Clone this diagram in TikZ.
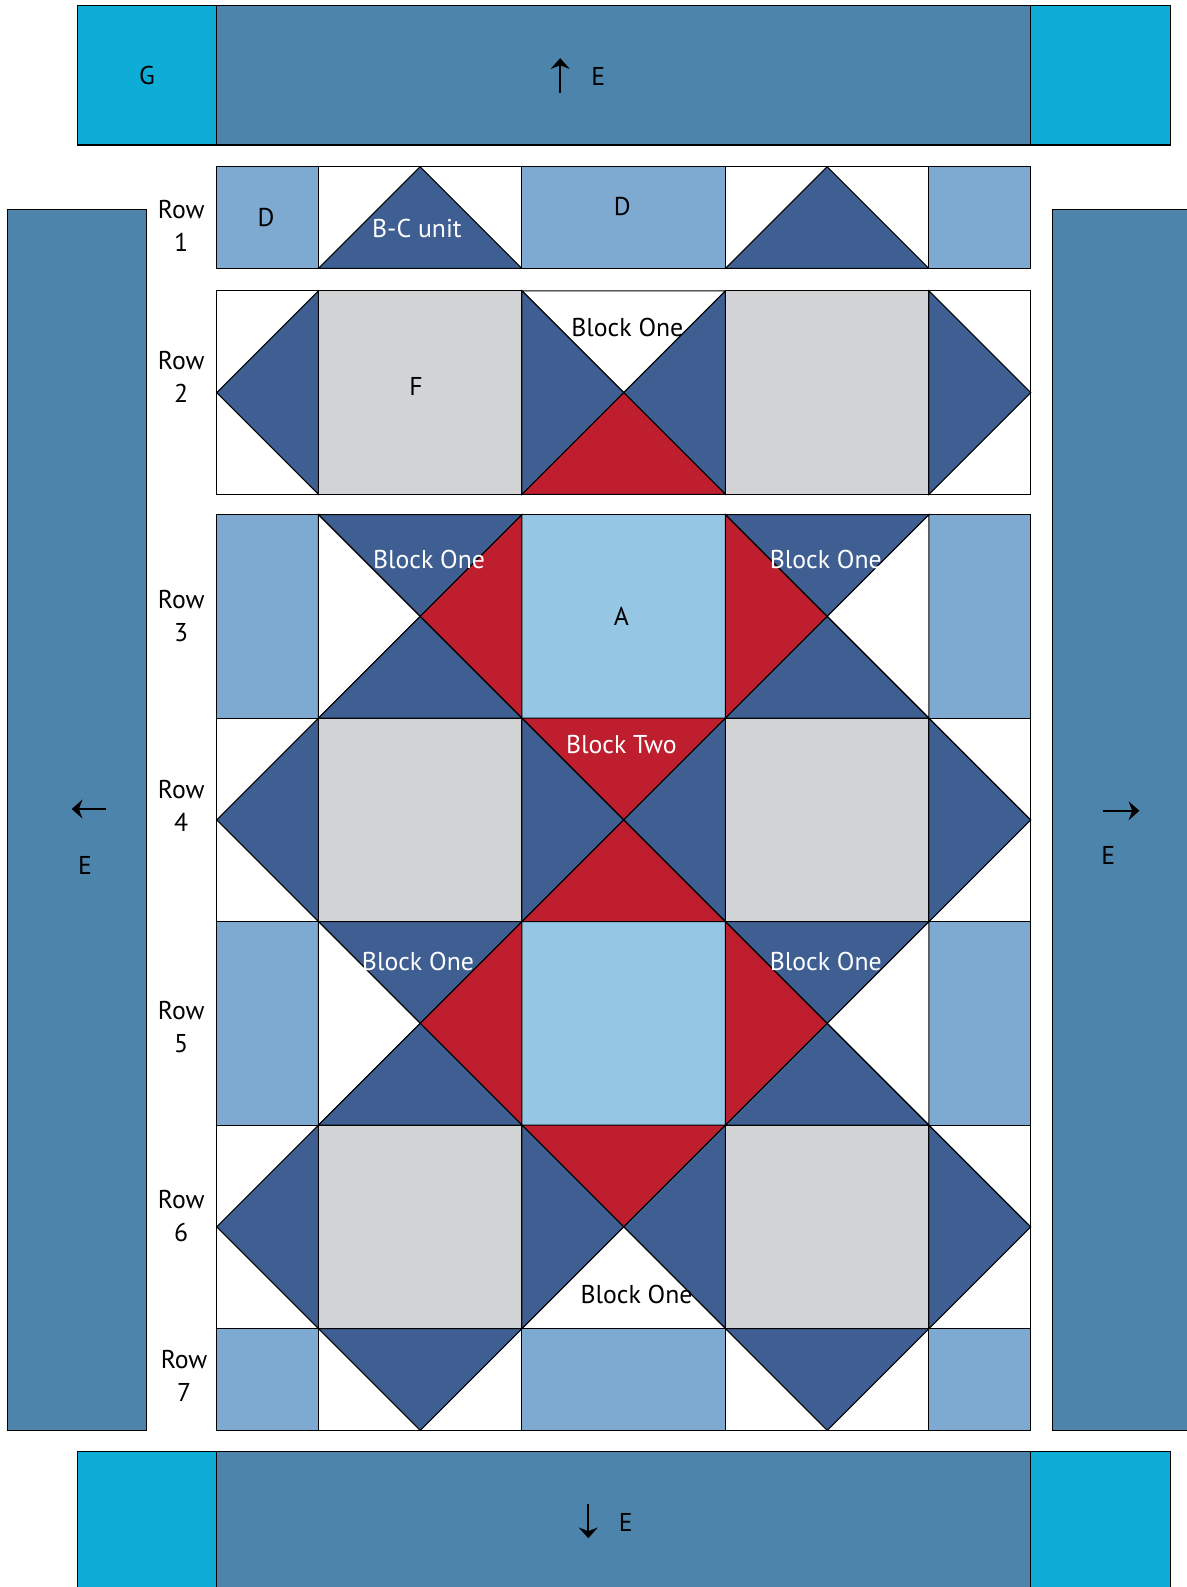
\documentclass[tikz,border=0pt]{standalone}
\usepackage{fontspec}
\setmainfont{PT Sans}
\usetikzlibrary{arrows.meta}
\definecolor{gcyan}{HTML}{0DADD7}
\definecolor{estrip}{HTML}{4D84AB}
\definecolor{dpatch}{HTML}{7EAAD1}
\definecolor{navy}{HTML}{3F5F93}
\definecolor{qred}{HTML}{BE1E2D}
\definecolor{fgray}{HTML}{D1D3D5}
\definecolor{asky}{HTML}{95C7E4}

\begin{document}
\begin{tikzpicture}[line width=0.3pt,
  every node/.style={font=\fontsize{7.2}{9.2}\selectfont,inner sep=0pt},
  patch/.style={draw=black},
  rowlab/.style={align=center},
  wlab/.style={text=white},
  arr/.style={line width=0.45pt,-{Stealth[length=3pt,width=5.3pt,inset=1pt]}}]
\useasboundingbox (-2.1297,-13.959) rectangle (9.536,1.6383);
\clip (-2.1297,-13.959) rectangle (9.536,1.6383);

% borders
\filldraw[patch,fill=gcyan] (-1.37,0.213) rectangle (0,1.582);
\filldraw[patch,fill=estrip] (0,0.213) rectangle (8,1.582);
\filldraw[patch,fill=gcyan] (8,0.213) rectangle (9.37,1.582);
\filldraw[patch,fill=gcyan] (-1.37,-12.63) rectangle (0,-14.1);
\filldraw[patch,fill=estrip] (0,-12.63) rectangle (8,-14.1);
\filldraw[patch,fill=gcyan] (8,-12.63) rectangle (9.37,-14.1);
\filldraw[patch,fill=estrip] (-2.058,-0.42) rectangle (-0.688,-12.42);
\filldraw[patch,fill=estrip] (8.212,-0.42) rectangle (9.7,-12.42);

% row 1
\foreach \x/\w in {0/1,3/2,7/1}
  \filldraw[patch,fill=dpatch] (\x,0) rectangle (\x+\w,-1);
\foreach \x in {1,5} {
  \filldraw[patch,fill=white] (\x,0) rectangle (\x+2,-1);
  \filldraw[patch,fill=navy] (\x,-1) -- (\x+1,0) -- (\x+2,-1) -- cycle;
}

% rows 2, 4, 6: side units and F squares
\foreach \y in {-1.22,-5.42,-9.42} {
  \filldraw[patch,fill=white] (0,\y) rectangle (1,\y-2);
  \filldraw[patch,fill=navy] (1,\y) -- (0,\y-1) -- (1,\y-2) -- cycle;
  \filldraw[patch,fill=white] (7,\y) rectangle (8,\y-2);
  \filldraw[patch,fill=navy] (7,\y) -- (8,\y-1) -- (7,\y-2) -- cycle;
  \filldraw[patch,fill=fgray] (1,\y) rectangle (3,\y-2);
  \filldraw[patch,fill=fgray] (5,\y) rectangle (7,\y-2);
}

% rows 3, 5: D columns and A squares
\foreach \y in {-3.42,-7.42} {
  \filldraw[patch,fill=dpatch] (0,\y) rectangle (1,\y-2);
  \filldraw[patch,fill=dpatch] (7,\y) rectangle (8,\y-2);
  \filldraw[patch,fill=asky] (3,\y) rectangle (5,\y-2);
}

% quarter-square blocks: x/top/top/left/right/bottom
\foreach \x/\y/\ct/\cl/\cr/\cb in {3/-1.22/white/navy/navy/qred,
    1/-3.42/navy/white/qred/navy, 5/-3.42/navy/qred/white/navy,
    3/-5.42/qred/navy/navy/qred,
    1/-7.42/navy/white/qred/navy, 5/-7.42/navy/qred/white/navy,
    3/-9.42/qred/navy/navy/white} {
  \filldraw[patch,fill=\ct] (\x,\y) -- (\x+2,\y) -- (\x+1,\y-1) -- cycle;
  \filldraw[patch,fill=\cl] (\x,\y) -- (\x+1,\y-1) -- (\x,\y-2) -- cycle;
  \filldraw[patch,fill=\cr] (\x+2,\y) -- (\x+1,\y-1) -- (\x+2,\y-2) -- cycle;
  \filldraw[patch,fill=\cb] (\x,\y-2) -- (\x+1,\y-1) -- (\x+2,\y-2) -- cycle;
}

% row 7
\foreach \x/\w in {0/1,3/2,7/1}
  \filldraw[patch,fill=dpatch] (\x,-11.42) rectangle (\x+\w,-12.42);
\foreach \x in {1,5} {
  \filldraw[patch,fill=white] (\x,-11.42) rectangle (\x+2,-12.42);
  \filldraw[patch,fill=navy] (\x,-11.42) -- (\x+2,-11.42) -- (\x+1,-12.42) -- cycle;
}

% border labels
\node (gLab) at (-0.685,0.898) {G};
\node (eTop) at (3.75,0.891) {E};
\node (eBot) at (4.02,-13.32) {E};
\node (eLeft) at (-1.294,-6.863) {E};
\node (eRight) at (8.763,-6.765) {E};
\coordinate (upTail) at (3.376,0.723);
\coordinate (upTip) at (3.376,1.067);
\coordinate (dnTail) at (3.652,-13.14);
\coordinate (dnTip) at (3.652,-13.48);
\coordinate (ltTail) at (-1.088,-6.313);
\coordinate (ltTip) at (-1.425,-6.313);
\coordinate (rtTail) at (8.714,-6.33);
\coordinate (rtTip) at (9.068,-6.33);
\draw[arr] (upTail) -- (upTip);
\draw[arr] (dnTail) -- (dnTip);
\draw[arr] (ltTail) -- (ltTip);
\draw[arr] (rtTail) -- (rtTip);

% row labels
\node[rowlab] (row1) at (-0.349,-0.583) {Row\\1};
\node[rowlab] (row2) at (-0.349,-2.062) {Row\\2};
\node[rowlab] (row3) at (-0.349,-4.419) {Row\\3};
\node[rowlab] (row4) at (-0.349,-6.279) {Row\\4};
\node[rowlab] (row5) at (-0.349,-8.457) {Row\\5};
\node[rowlab] (row6) at (-0.349,-10.317) {Row\\6};
\node[rowlab] (row7) at (-0.32,-11.888) {Row\\7};

% patch labels
\node (dLeft) at (0.486,-0.50) {D};
\node[wlab] (bcUnit) at (1.968,-0.61) {B-C unit};
\node (dMid) at (3.987,-0.39) {D};
\node (oneRowTwo) at (4.036,-1.584) {Block One};
\node (fLab) at (1.958,-2.161) {F};
\node[wlab] (oneThreeL) at (2.087,-3.862) {Block One};
\node[wlab] (oneThreeR) at (5.986,-3.862) {Block One};
\node (aLab) at (3.977,-4.419) {A};
\node[wlab] (twoLab) at (3.977,-5.682) {Block Two};
\node[wlab] (oneFiveL) at (1.978,-7.810) {Block One};
\node[wlab] (oneFiveR) at (5.986,-7.810) {Block One};
\node (oneSix) at (4.126,-11.082) {Block One};
\end{tikzpicture}
\end{document}
